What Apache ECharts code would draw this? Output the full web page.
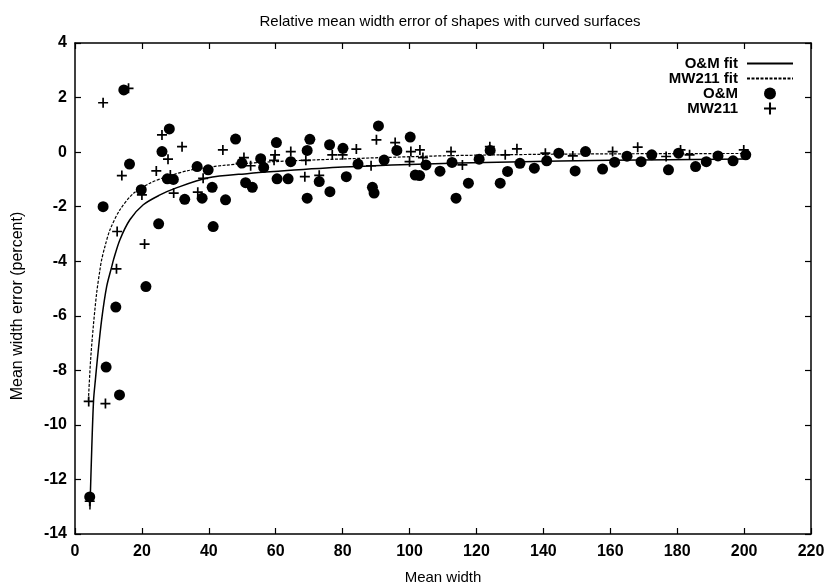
<!DOCTYPE html>
<html>
<head>
<meta charset="utf-8">
<script src="https://cdn.jsdelivr.net/npm/echarts@6/dist/echarts.min.js"></script>
<style>html,body{margin:0;padding:0;background:#fff}#c{width:829px;height:586px}</style>
</head>
<body>
<div id="c"></div>
<script>
// ---- data ----
var titleText = 'Relative mean width error of shapes with curved surfaces';
var xName = 'Mean width';
var yName = 'Mean width error (percent)';
var xTicks = [0, 20, 40, 60, 80, 100, 120, 140, 160, 180, 200, 220];
var yTicks = [-14, -12, -10, -8, -6, -4, -2, 0, 2, 4];

var omFit = [[4.46,-13.1],[5.0,-10.9],[5.55,-9.1],[6.1,-8.34],[6.67,-7.61],[7.96,-6.15],[9.46,-4.93],[11,-4.19],[11.5,-3.95],[13.4,-3.22],[16.4,-2.48],[20.4,-1.93],[25.4,-1.57],[29.9,-1.33],[39.5,-0.95],[52,-0.78],[59.5,-0.71],[80,-0.55],[100,-0.45],[130,-0.36],[160,-0.3],[200,-0.25]];
var mwFit = [[4.0,-9.1],[4.67,-7.61],[5.47,-6.39],[6.47,-5.17],[7.46,-4.31],[7.96,-3.95],[8.95,-3.46],[10.45,-2.85],[13.4,-2.12],[17.5,-1.51],[22.4,-1.14],[27.4,-0.9],[34.5,-0.66],[45,-0.48],[59.5,-0.35],[80,-0.25],[112,-0.13],[150,-0.07],[200,-0.05]];

var omX = [4.4,8.4,9.3,12.2,13.3,14.6,16.3,19.8,21.2,25,26,28.2,27.6,29.4,32.8,36.5,38,39.8,41,41.3,45,48,49.9,51,53,55.5,56.4,60.2,60.4,63.7,64.5,69.4,70.2,69.4,73,76.1,76.2,80.1,81.1,84.6,88.9,89.4,90.7,92.4,96.2,100.2,101.7,103,104.9,109.1,112.7,113.9,117.6,120.8,124.1,127.1,129.3,133,137.3,141,144.6,149.5,152.6,157.7,161.3,165,169.2,172.4,177.4,180.4,185.5,188.7,192.2,196.7,200.5];
var omY = [-12.64,-2.0,-7.88,-5.68,-8.9,2.28,-0.44,-1.38,-4.93,-2.63,0.02,0.85,-0.98,-1.0,-1.73,-0.53,-1.69,-0.65,-1.29,-2.73,-1.75,0.48,-0.4,-1.12,-1.29,-0.24,-0.56,0.35,-0.98,-0.98,-0.35,0.06,0.47,-1.69,-1.08,0.27,-1.45,0.14,-0.9,-0.44,-1.29,-1.5,0.96,-0.29,0.06,0.55,-0.84,-0.86,-0.47,-0.7,-0.38,-1.69,-1.14,-0.26,0.06,-1.14,-0.71,-0.41,-0.59,-0.32,-0.04,-0.69,0.02,-0.62,-0.37,-0.15,-0.35,-0.1,-0.65,-0.04,-0.53,-0.35,-0.14,-0.32,-0.1];

var mwX = [4.1,4.4,8.4,9.1,12.4,12.6,14,16,20,20.8,24.3,26,27.8,28.5,29.5,32,36.7,38.3,44.2,49.5,50.5,52.5,59.5,59.8,64.5,68.7,69,73,76.9,80,84.1,88.5,90.1,95.7,100.4,100,103.1,104,112.4,115.8,124,128.6,132.1,140.6,148.8,160.7,168.2,176.7,181,183.7,199.9];
var mwY = [-9.14,-12.8,1.81,-9.22,-4.28,-2.91,-0.86,2.34,-1.57,-3.37,-0.69,0.63,-0.26,-0.84,-1.5,0.2,-1.47,-0.96,0.08,-0.41,-0.2,-0.5,-0.3,-0.1,0.02,-0.9,-0.3,-0.85,-0.1,-0.1,0.11,-0.5,0.45,0.35,0.02,-0.35,0.08,-0.2,0.02,-0.47,0.2,-0.1,0.12,-0.04,-0.14,0.02,0.18,-0.16,0.08,-0.1,0.08];

// ---- chart ----
function zip(a, b) { return a.map(function (v, i) { return [v, b[i]]; }); }
var plusPath = 'path://M4.15,0h1.7v4.15h4.15v1.7h-4.15v4.15h-1.7v-4.15h-4.15v-1.7h4.15z';
var font = 'Liberation Sans, Arial, Helvetica, sans-serif';

var chart = echarts.init(document.getElementById('c'), null, {renderer: 'canvas'});
var axisLine = {show: true, onZero: false, lineStyle: {color: '#000', width: 1.5}};
function xAx(pos, labels) {
  return {
    type: 'value', position: pos, min: 0, max: 220, interval: 20,
    axisLine: axisLine,
    axisTick: {show: true, inside: true, length: 6, lineStyle: {color: '#000', width: 1.2}},
    minorTick: {show: false},
    axisLabel: {show: labels, color: '#000', fontSize: 16, fontWeight: 'bold', fontFamily: font, margin: 10},
    splitLine: {show: false},
    name: labels ? xName : '', nameLocation: 'middle', nameGap: 36,
    nameTextStyle: {color: '#000', fontSize: 15, fontFamily: font}
  };
}
function yAx(pos, labels) {
  return {
    type: 'value', position: pos, min: -14, max: 4, interval: 2,
    axisLine: axisLine,
    axisTick: {show: true, inside: true, length: 6, lineStyle: {color: '#000', width: 1.2}},
    minorTick: {show: false},
    axisLabel: {show: labels, color: '#000', fontSize: 16, fontWeight: 'bold', fontFamily: font, margin: 8},
    splitLine: {show: false}
  };
}

chart.setOption({
  animation: false,
  backgroundColor: '#fff',
  title: {
    text: titleText, left: 445, top: 9, textAlign: 'center',
    textStyle: {color: '#000', fontSize: 15, fontWeight: 'normal', fontFamily: font}
  },
  grid: {left: 75, right: 18, top: 43, bottom: 52, containLabel: false, outerBoundsMode: 'none'},
  xAxis: [xAx('bottom', true), xAx('top', false)],
  yAxis: [yAx('left', true), yAx('right', false)],
  graphic: [{
    type: 'text', rotation: Math.PI / 2, x: 18, y: 306,
    style: {text: yName, fill: '#000', font: '16px ' + font, textAlign: 'center', textVerticalAlign: 'middle'}
  }],
  legend: {
    orient: 'vertical', right: 30, top: 51, align: 'right',
    itemWidth: 46, itemHeight: 12, itemGap: 0,
    textStyle: {color: '#000', fontSize: 15, fontWeight: 'bold', fontFamily: font, lineHeight: 15, padding: [0, 4, 0, 0]},
    data: [
      {name: 'O&M fit', itemStyle: {opacity: 0}},
      {name: 'MW211 fit', itemStyle: {opacity: 0}},
      {name: 'O&M'},
      {name: 'MW211', icon: plusPath}
    ]
  },
  series: [
    {name: 'O&M fit', type: 'line', data: omFit, symbol: 'none', smooth: 0.3,
     itemStyle: {color: '#000'}, lineStyle: {color: '#000', width: 1.5}, z: 2},
    {name: 'MW211 fit', type: 'line', data: mwFit, symbol: 'none', smooth: 0.3,
     itemStyle: {color: '#000'}, lineStyle: {color: '#000', width: 1.2, type: [3, 1.5]}, z: 2},
    {name: 'O&M', type: 'scatter', data: zip(omX, omY), symbol: 'circle', symbolSize: 11,
     itemStyle: {color: '#000', opacity: 1}, z: 3},
    {name: 'MW211', type: 'scatter', data: zip(mwX, mwY), symbol: plusPath, symbolSize: 10,
     symbolKeepAspect: true, itemStyle: {color: '#000', opacity: 1}, z: 3}
  ]
});
</script>
</body>
</html>
